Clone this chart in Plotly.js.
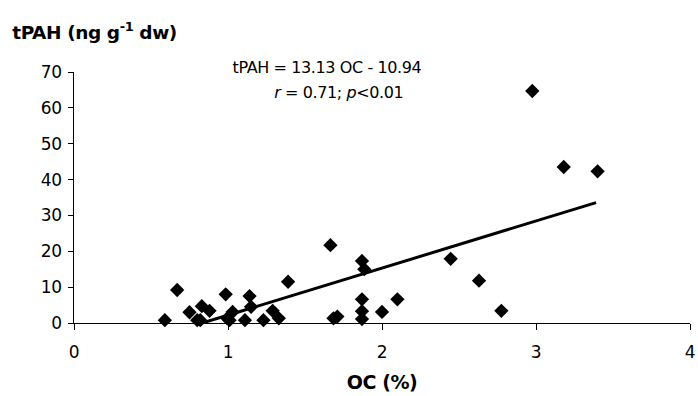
<!DOCTYPE html>
<html>
<head>
<meta charset="utf-8">
<script src="https://cdn.plot.ly/plotly-3.0.1.min.js"></script>
<style>
html,body{margin:0;padding:0;background:#fff;}
#chart{width:698px;height:396px;}
.main-svg text{letter-spacing:-0.4px;}
</style>
</head>
<body>
<div id="chart"></div>
<script>
// Organic carbon (%) of each sample
var ocValues = [0.59, 0.67, 0.75, 0.80, 0.83, 0.82, 0.88, 0.985, 0.995, 1.01, 1.03, 1.11, 1.14, 1.15,
  1.23, 1.29, 1.33, 1.39, 1.665, 1.685, 1.71, 1.87, 1.885, 1.87, 1.87, 1.87, 2.00, 2.10,
  2.446, 2.63, 2.775, 2.976, 3.18, 3.40];
// Total PAH (ng g-1 dw) of each sample
var tpahValues = [0.8, 9.2, 3.0, 0.8, 4.7, 0.8, 3.4, 8.0, 1.3, 0.8, 3.1, 0.8, 7.5, 4.5,
  0.8, 3.4, 1.3, 11.5, 21.7, 1.3, 1.8, 17.3, 15.0, 6.6, 3.3, 1.1, 3.1, 6.6,
  17.9, 11.8, 3.4, 64.7, 43.5, 42.3];
// Regression: tPAH = slope * OC + intercept
var slope = 13.13;
var intercept = -10.94;
var fitX = [-intercept / slope, 3.39];
var fitY = fitX.map(function (x) { return slope * x + intercept; });
var xTicks = [0, 1, 2, 3, 4];
var yTicks = [0, 10, 20, 30, 40, 50, 60, 70];

var font = 'DejaVu Sans, Liberation Sans, Arial, sans-serif';

var traces = [
  {
    x: ocValues, y: tpahValues, type: 'scatter', mode: 'markers',
    marker: {symbol: 'diamond', size: 11, color: '#000'},
    cliponaxis: false, showlegend: false
  },
  {
    x: fitX, y: fitY, type: 'scatter', mode: 'lines',
    line: {color: '#000', width: 3}, showlegend: false
  }
];

var layout = {
  width: 698, height: 396,
  margin: {l: 74, r: 8, t: 72, b: 73},
  paper_bgcolor: '#fff', plot_bgcolor: '#fff',
  font: {family: font, size: 17, color: '#000'},
  showlegend: false,
  xaxis: {
    range: [0, 4], tickvals: xTicks, ticktext: xTicks.map(String),
    showgrid: false, zeroline: false, showline: true, linecolor: '#000', linewidth: 1,
    ticks: 'outside', ticklen: 6, tickcolor: '#000', ticklabelstandoff: 8,
    title: {text: '<b>OC (%)</b>', font: {family: font, size: 19}, standoff: 14},
    fixedrange: true
  },
  yaxis: {
    range: [0, 70], tickvals: yTicks, ticktext: yTicks.map(String),
    showgrid: false, zeroline: false, showline: true, linecolor: '#000', linewidth: 1,
    ticks: 'outside', ticklen: 5, tickcolor: '#000', ticklabelstandoff: 3,
    fixedrange: true
  },
  annotations: [
    {xref: 'paper', yref: 'paper', x: -0.108, y: 1.162, xanchor: 'left', yanchor: 'middle',
     text: '<b>tPAH (ng g<sup>-1</sup> dw)</b>', showarrow: false,
     font: {family: font, size: 18.5, color: '#000'}},
    {xref: 'paper', yref: 'paper', x: 0.4115, y: 1.016, xanchor: 'center', yanchor: 'middle',
     text: 'tPAH = 13.13 OC - 10.94', showarrow: false,
     font: {family: font, size: 16, color: '#000'}},
    {xref: 'paper', yref: 'paper', x: 0.43, y: 0.92, xanchor: 'center', yanchor: 'middle',
     text: '<i>r</i> = 0.71; <i>p</i>&lt;0.01', showarrow: false,
     font: {family: font, size: 16, color: '#000'}}
  ]
};

Plotly.newPlot('chart', traces, layout, {displayModeBar: false, staticPlot: true});
</script>
</body>
</html>
